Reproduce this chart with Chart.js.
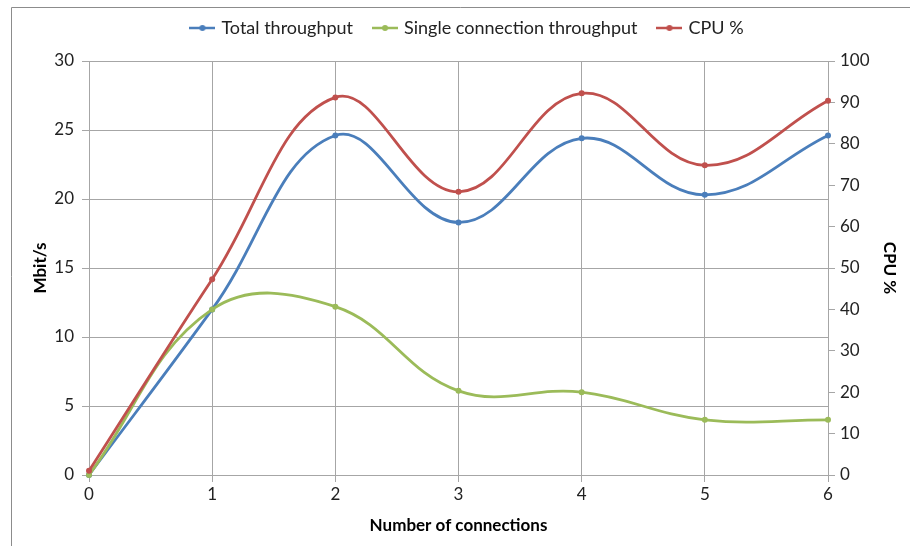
<!DOCTYPE html>
<html><head><meta charset="utf-8">
<script src="https://cdn.jsdelivr.net/npm/chart.js@4/dist/chart.umd.min.js"></script>
<style>html,body{margin:0;padding:0;background:#fff}#wrap{width:910px;height:546px}</style>
</head><body><div id="wrap"><canvas id="c" width="910" height="546"></canvas></div>
<script>
const categories = ['0','1','2','3','4','5','6'];
const totalThroughput = [0, 12.0, 24.6, 18.3, 24.4, 20.3, 24.6];
const singleThroughput = [0, 12.0, 12.2, 6.1, 6.0, 4.0, 4.0];
const cpuPercent = [1, 47.3, 91.2, 68.4, 92.2, 74.8, 90.4];
const seriesNames = ['Total throughput', 'Single connection throughput', 'CPU %'];
const colors = ['#4A7EBB', '#9BBB59', '#C0504D'];

function marker(color){
  const cv = document.createElement('canvas');
  cv.width = 26; cv.height = 8;
  const g = cv.getContext('2d');
  g.strokeStyle = color; g.lineWidth = 2.5;
  g.beginPath(); g.moveTo(0,4); g.lineTo(26,4); g.stroke();
  g.fillStyle = color; g.beginPath(); g.arc(13,4,3,0,Math.PI*2); g.fill();
  return cv;
}

const FONT = 'Lato, "Liberation Sans", sans-serif';
const frame = {
  id:'frame',
  beforeDraw(chart){
    const c = chart.ctx; c.save();
    c.strokeStyle = '#8c8c8c'; c.lineWidth = 1;
    c.beginPath(); c.moveTo(11.5, 546); c.lineTo(11.5, 7.5); c.lineTo(910, 7.5); c.stroke();
    c.restore();
  },
  afterInit(chart){
    const lg = chart.legend; const f = lg.fit;
    lg.fit = function(){ f.call(this); this.height = 64; };
  }
};

new Chart(document.getElementById('c'), {
  type: 'line',
  data: {
    labels: categories,
    datasets: [
      {label: seriesNames[0], data: totalThroughput, yAxisID: 'y', borderColor: colors[0], backgroundColor: colors[0]},
      {label: seriesNames[1], data: singleThroughput, yAxisID: 'y', borderColor: colors[1], backgroundColor: colors[1]},
      {label: seriesNames[2], data: cpuPercent, yAxisID: 'y1', borderColor: colors[2], backgroundColor: colors[2]}
    ].map((d,i)=>Object.assign(d,{borderWidth:2.8, tension:0.4, pointRadius:3, pointHoverRadius:3, pointBorderWidth:0, fill:false, order:[2,1,0][i], clip:false}))
  },
  options: {
    responsive: false, animation: false,
    layout: {padding: {left: 30, right: 4, top: -3, bottom: 10}},
    plugins: {
      tooltip: {enabled:false},
      legend: {
        position: 'top',
        labels: {
          font: {family: FONT, size: 18}, color: '#222', boxWidth: 20, boxHeight: 8,
          usePointStyle: true, pointStyleWidth: 20, padding: 22,
          generateLabels(chart){
            return chart.data.datasets.map((d,i)=>({text: d.label, pointStyle: marker(d.borderColor), fillStyle: d.borderColor, strokeStyle: d.borderColor, lineWidth:0, datasetIndex:i, hidden:false, fontColor:'#222'}));
          }
        }
      }
    },
    scales: {
      x: {
        type: 'category', offset: false,
        grid: {color: '#a6a6a6', lineWidth: 1, tickLength: 7, offset: false},
        border: {color: '#a6a6a6'},
        ticks: {font: {family: FONT, size: 17}, color: '#222', padding: 2, maxRotation: 0},
        title: {display: true, text: 'Number of connections', font: {family: FONT, size: 17, weight: 'bold'}, color: '#000', padding: {top: 4, bottom: 0}},
        afterFit(s){ s.height = 61; }
      },
      y: {
        position: 'left', min: 0, max: 30,
        grid: {color: '#a6a6a6', lineWidth: 1, tickLength: 7},
        border: {color: '#a6a6a6'},
        ticks: {stepSize: 5, font: {family: FONT, size: 17}, color: '#222', padding: 8},
        title: {display: true, text: 'Mbit/s', font: {family: FONT, size: 17, weight: 'bold'}, color: '#000', padding: {top:0, bottom: 6}},
        afterFit(s){ s.width = 59; }
      },
      y1: {
        position: 'right', min: 0, max: 100,
        grid: {drawOnChartArea: false, color: '#a6a6a6', tickLength: 7},
        border: {color: '#a6a6a6'},
        ticks: {stepSize: 10, font: {family: FONT, size: 17}, color: '#222', padding: 5},
        title: {display: true, text: 'CPU %', font: {family: FONT, size: 17, weight: 'bold'}, color: '#000', padding: {top: 6, bottom: 0}},
        afterFit(s){ s.width = 78; }
      }
    }
  },
  plugins: [frame]
});
</script>
</body></html>
